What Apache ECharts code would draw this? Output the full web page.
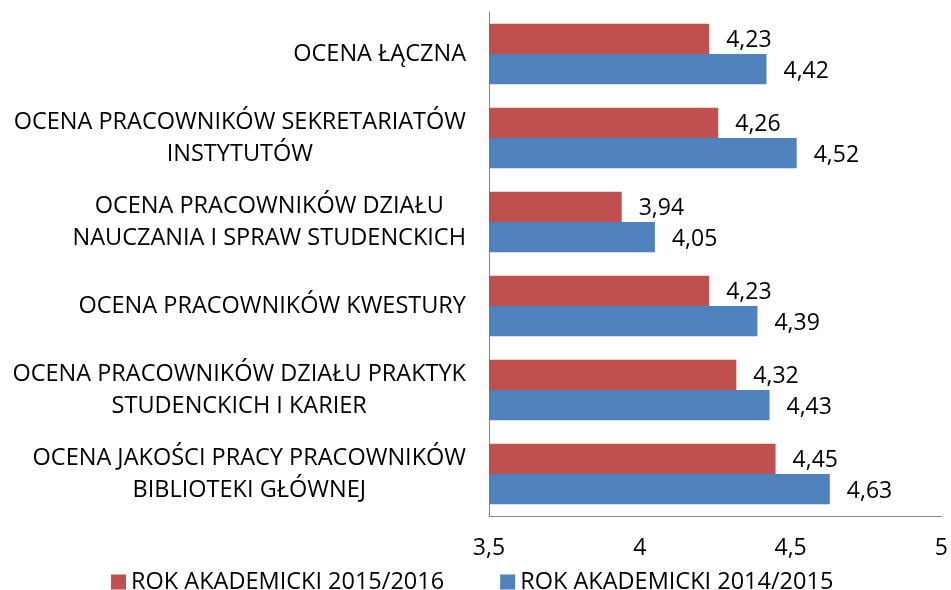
<!DOCTYPE html>
<html>
  <head>
    <meta charset="UTF-8" />
    <title>Ocena pracowników</title>
    <script src="https://cdn.jsdelivr.net/npm/echarts@6.0.0/dist/echarts.min.js"></script>
    <style>
      body { margin: 0; background: #fff; }
    </style>
  </head>
  <body>
    <div id="chart" style="width: 951px; height: 590px"></div>
  </body>
  <script>
    // categories from top to bottom, lines split with \n
    const categories = [
      "OCENA ŁĄCZNA",
      "OCENA PRACOWNIKÓW SEKRETARIATÓW\nINSTYTUTÓW",
      "OCENA PRACOWNIKÓW DZIAŁU\nNAUCZANIA I SPRAW STUDENCKICH",
      "OCENA PRACOWNIKÓW KWESTURY",
      "OCENA PRACOWNIKÓW DZIAŁU PRAKTYK\nSTUDENCKICH I KARIER",
      "OCENA JAKOŚCI PRACY PRACOWNIKÓW\nBIBLIOTEKI GŁÓWNEJ",
    ];
    const rok2015_2016 = [4.23, 4.26, 3.94, 4.23, 4.32, 4.45];
    const rok2014_2015 = [4.42, 4.52, 4.05, 4.39, 4.43, 4.63];
    const seriesNames = ["ROK AKADEMICKI 2015/2016", "ROK AKADEMICKI 2014/2015"];

    const font = "Open Sans";
    const fs = 23.5;
    const comma = (v) => String(v).replace(".", ",");

    let myChart = echarts.init(document.getElementById("chart"));

    const valueLabel = {
      show: true,
      position: "right",
      distance: 17,
      offset: [0, 2],
      fontSize: 23,
      color: "#000",
      formatter: (p) => comma(p.value),
    };

    myChart.setOption({
      animation: false,
      textStyle: { fontFamily: font },
      grid: { left: 489, right: 8, top: 12, bottom: 74 },
      legend: {
        top: 565,
        left: 106,
        icon: "rect",
        itemWidth: 15,
        itemHeight: 15,
        itemGap: 56,
        textStyle: { fontFamily: font, fontSize: fs, color: "#000" },
        data: seriesNames,
      },
      xAxis: {
        type: "value",
        min: 3.5,
        max: 5,
        interval: 0.5,
        splitLine: { show: false },
        axisLine: { show: true, lineStyle: { color: "#868686" } },
        axisTick: { show: false },
        axisLabel: {
          margin: 21,
          fontSize: 23,
          color: "#000",
          formatter: (v) => comma(v),
        },
      },
      yAxis: {
        type: "category",
        inverse: true,
        data: categories,
        axisLine: { show: true, lineStyle: { color: "#868686" } },
        axisTick: { show: false },
        axisLabel: {
          margin: 23,
          fontSize: fs,
          color: "#000",
          lineHeight: 32,
          formatter: (v) => v.split("\n").map((l) => "{c|" + l + "}").join("\n"),
          rich: { c: { align: "center", fontSize: fs, lineHeight: 32, color: "#000" } },
        },
      },
      series: [
        {
          name: seriesNames[0],
          type: "bar",
          data: rok2015_2016,
          barGap: "0%",
          barCategoryGap: "28%",
          itemStyle: { color: "#C0504D" },
          label: valueLabel,
        },
        {
          name: seriesNames[1],
          type: "bar",
          data: rok2014_2015,
          barGap: "0%",
          barCategoryGap: "28%",
          itemStyle: { color: "#4F81BD" },
          label: valueLabel,
        },
      ],
    });
  </script>
</html>
